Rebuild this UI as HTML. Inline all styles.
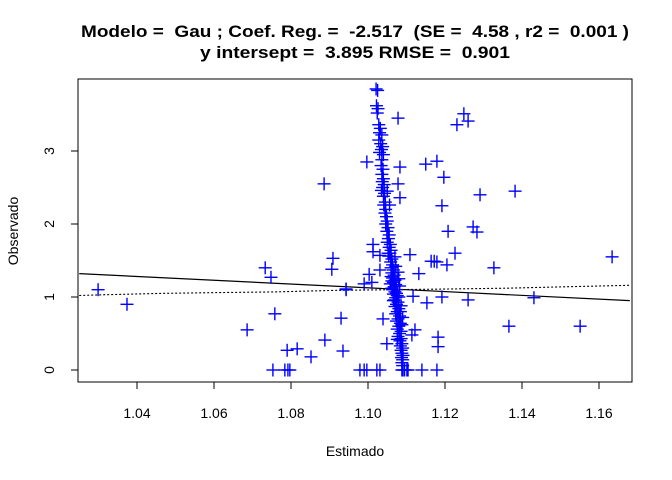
<!DOCTYPE html>
<html><head><meta charset="utf-8"><style>
body{margin:0;background:#fff;}
svg{display:block;font-family:"Liberation Sans",Arial,sans-serif;}
text{white-space:pre;}
</style></head><body>
<svg id="c" width="672" height="480" xmlns="http://www.w3.org/2000/svg">
<rect width="672" height="480" fill="#fff"/>
<text x="355" y="37" text-anchor="middle" font-weight="bold" font-size="17" textLength="548" lengthAdjust="spacingAndGlyphs">Modelo =  Gau ; Coef. Reg. =  -2.517  (SE =  4.58 , r2 =  0.001 )</text>
<text x="355" y="58" text-anchor="middle" font-weight="bold" font-size="17" textLength="310" lengthAdjust="spacingAndGlyphs">y intersept =  3.895 RMSE =  0.901</text>
<text x="355" y="456" text-anchor="middle" font-size="14">Estimado</text>
<text x="0" y="0" transform="translate(18,231) rotate(-90)" text-anchor="middle" font-size="14">Observado</text>
<g id="marks"></g>
<rect x="78" y="79" width="554" height="303" fill="none" stroke="#000" stroke-width="1"/>
<g id="axes"></g>
</svg>
<script>
const xTicks=[1.04,1.06,1.08,1.10,1.12,1.14,1.16];
const xTickLabels=["1.04","1.06","1.08","1.10","1.12","1.14","1.16"];
const yTicks=[0,1,2,3];
const yTickLabels=["0","1","2","3"];
const scatterX=[1.0299,1.0374,1.0686,1.0733,1.0748,1.0758,1.0753,1.0784,1.0792,1.0797,1.079,1.0816,1.0852,1.0888,1.0886,1.0909,1.0906,1.093,1.0935,1.0943,
1.1078,1.1231,1.1249,1.126,1.0997,1.1083,1.115,1.1179,1.1197,1.1291,1.1382,1.1192,1.1078,1.1083,1.1208,1.1273,1.1283,1.1226,1.1327,1.1164,1.1172,1.1179,1.1205,1.1634,1.1132,1.1109,1.1003,1.099,1.1010,1.1013,1.1013,1.1031,1.1031,1.0943,1.1117,1.1153,1.1192,1.126,1.1431,1.1366,1.1551,1.1039,1.1122,1.1114,1.1182,1.1182,1.1049,
1.0979,1.0990,1.0997,1.1023,1.1031,1.1088,1.1091,1.1095,1.1101,1.1104,1.1140,1.1179];
const scatterY=[1.10,0.90,0.55,1.40,1.27,0.77,0,0,0,0,0.27,0.29,0.18,0.41,2.55,1.53,1.38,0.71,0.26,1.10,
3.45,3.36,3.51,3.41,2.85,2.78,2.82,2.86,2.64,2.40,2.45,2.25,2.55,2.36,1.90,1.96,1.89,1.60,1.40,1.49,1.49,1.48,1.44,1.55,1.32,1.58,1.31,1.18,1.20,1.72,1.62,1.57,1.37,1.11,1.01,0.92,1.00,0.96,0.99,0.60,0.60,0.70,0.55,0.48,0.45,0.32,0.36,
0,0,0,0,0,0,0,0,0,0,0,0];
const clusterX=[1.1021,1.1025,1.1022,1.1026,1.1024,1.1028,1.1032,1.1030,1.1036,1.1028,1.1033,1.1038,1.1035,1.1030,1.1040,1.1036,1.1034,1.1039,1.1036,1.1040,1.1037,1.1042,1.1038,1.1035,1.1043,1.1040,1.1045,1.1041,1.1046,1.1044,1.1048,1.1050,1.1046,1.1052,1.1049,1.1055,1.1053,1.1050,1.1058,1.1055,1.1060,1.1057,1.1054,1.1062,1.1059,1.1064,1.1060,1.1066,1.1062,1.1068,1.1064,1.1070,1.1066,1.1072,1.1068,1.1062,1.1074,1.1070,1.1066,1.1076,1.1072,1.1068,1.1078,1.1074,1.1070,1.1080,1.1076,1.1072,1.1082,1.1078,1.1074,1.1084,1.1080,1.1076,1.1086,1.1082,1.1078,1.1086,1.1083,1.1088,1.1084,1.1090,1.1086,1.1088,1.1091,1.1087,1.1090,1.1088,1.1090,
1.1060,1.1058,1.1080,1.1082,1.1066,1.1086,1.1088,1.1090,1.1072,1.1052,1.1056,1.1050,1.1070,1.1078,1.1064,1.1074,1.1084,1.1062,1.1080,1.1076];
const clusterY=[3.85,3.83,3.62,3.58,3.52,3.36,3.31,3.25,3.22,3.15,3.10,3.06,3.02,2.98,2.95,2.88,2.80,2.75,2.68,2.62,2.58,2.54,2.50,2.46,2.42,2.38,2.30,2.26,2.20,2.15,2.10,2.04,2.00,1.95,1.90,1.85,1.80,1.75,1.72,1.68,1.64,1.60,1.56,1.52,1.48,1.44,1.40,1.37,1.33,1.30,1.26,1.23,1.20,1.17,1.14,1.12,1.10,1.07,1.04,1.02,0.99,0.96,0.93,0.90,0.87,0.84,0.80,0.77,0.74,0.70,0.67,0.64,0.60,0.56,0.53,0.50,0.46,0.43,0.40,0.36,0.33,0.30,0.27,0.23,0.20,0.17,0.14,0.10,0.06,
1.28,1.18,1.25,1.15,0.95,0.88,0.62,0.72,1.42,1.60,2.26,2.45,1.55,1.34,1.10,1.05,0.80,1.22,1.00,0.42];
const fitLineX=[1.025,1.168];
const fitLineY=[1.32,0.95];
const smoothX=[1.025,1.031,1.046,1.061,1.076,1.091,1.106,1.121,1.136,1.151,1.168];
const smoothY=[1.02,1.03,1.05,1.06,1.07,1.09,1.10,1.11,1.12,1.14,1.16];

const L=78,R=632,T=79,B=382;
const sx=v=>137+(v-1.04)*3850;
const sy=v=>370-v*73;
const NS="http://www.w3.org/2000/svg";
const marks=document.getElementById('marks'), axes=document.getElementById('axes');
function mk(tag,attrs,parent){const e=document.createElementNS(NS,tag);for(const k in attrs)e.setAttribute(k,attrs[k]);parent.appendChild(e);return e;}
const cl=mk('clipPath',{id:'pc'},marks);mk('rect',{x:L,y:T,width:R-L,height:B-T},cl);
const lines=mk('g',{'clip-path':'url(#pc)'},marks);
const fl=mk('line',{x1:sx(fitLineX[0]),y1:sy(fitLineY[0]),x2:sx(fitLineX[1]),y2:sy(fitLineY[1]),stroke:'#000','stroke-width':1.2},lines);


let d='';smoothX.forEach((x,i)=>{d+=(i?'L':'M')+sx(x).toFixed(1)+','+sy(smoothY[i]).toFixed(1);});
const sl=mk('path',{d:d,fill:'none',stroke:'#000','stroke-width':1.1,'stroke-dasharray':'2,2'},lines);


function cross(x,y){const g=mk('g',{stroke:'#0000ff','stroke-width':1.4},marks);


const px=sx(x),py=sy(y);mk('line',{x1:px-6.5,y1:py,x2:px+6.5,y2:py},g);mk('line',{x1:px,y1:py-6.5,x2:px,y2:py+6.5},g);}
scatterX.forEach((x,i)=>cross(x,scatterY[i]));
clusterX.forEach((x,i)=>cross(x,clusterY[i]));
xTicks.forEach((v,i)=>{const x=sx(v);const t=mk('line',{x1:x,y1:B,x2:x,y2:B+7,stroke:'#000'},axes);

const tx=mk('text',{x:x,y:B+36,'text-anchor':'middle','font-size':14},axes);tx.textContent=xTickLabels[i];
});
yTicks.forEach((v,i)=>{const y=sy(v);const t=mk('line',{x1:L-7,y1:y,x2:L,y2:y,stroke:'#000'},axes);

const tx=mk('text',{x:0,y:0,transform:`translate(54,${y}) rotate(-90)`,'text-anchor':'middle','font-size':14},axes);tx.textContent=yTickLabels[i];
});
</script>
</body></html>
